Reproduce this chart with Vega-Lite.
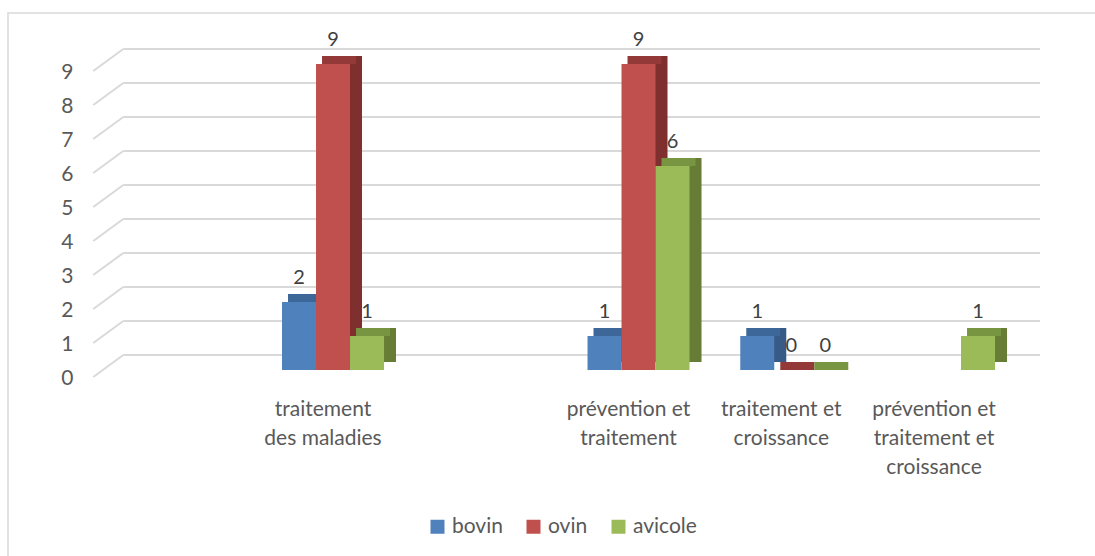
{
  "$schema": "https://vega.github.io/schema/vega-lite/v6.json",
  "width": 1090,
  "height": 546,
  "autosize": {"type": "none"},
  "padding": {"left": 8, "top": 13, "right": -3, "bottom": -3},
  "background": "white",
  "config": {
    "view": {"stroke": "#d9d9d9", "strokeWidth": 1.5},
    "font": "Lato",
    "axis": {"labelFont": "Lato"},
    "legend": {"labelFont": "Lato"}
  },
  "datasets": {
    "valeurs": [
      {"categorie": "traitement des maladies", "espece": "bovin", "nombre": 2},
      {"categorie": "traitement des maladies", "espece": "ovin", "nombre": 9},
      {"categorie": "traitement des maladies", "espece": "avicole", "nombre": 1},
      {"categorie": "prévention et traitement", "espece": "bovin", "nombre": 1},
      {"categorie": "prévention et traitement", "espece": "ovin", "nombre": 9},
      {"categorie": "prévention et traitement", "espece": "avicole", "nombre": 6},
      {"categorie": "traitement et croissance", "espece": "bovin", "nombre": 1},
      {"categorie": "traitement et croissance", "espece": "ovin", "nombre": 0},
      {"categorie": "traitement et croissance", "espece": "avicole", "nombre": 0},
      {"categorie": "prévention et traitement et croissance", "espece": "avicole", "nombre": 1}
    ],
    "grille": [
      {"v": 0}, {"v": 1}, {"v": 2}, {"v": 3}, {"v": 4},
      {"v": 5}, {"v": 6}, {"v": 7}, {"v": 8}, {"v": 9}
    ]
  },
  "data": {"name": "valeurs"},
  "layer": [
    {
      "data": {"name": "grille"},
      "mark": {"type": "rule", "color": "#d9d9d9", "strokeWidth": 2, "xOffset": -57, "x2Offset": 96, "yOffset": -15},
      "encoding": {
        "x": {"datum": " ", "type": "nominal", "title": null},
        "x2": {"datum": "prévention et traitement et croissance"},
        "y": {"field": "v", "type": "quantitative", "title": null}
      }
    },
    {
      "data": {"name": "grille"},
      "mark": {"type": "rule", "color": "#d9d9d9", "strokeWidth": 2, "xOffset": -87, "x2Offset": -57, "yOffset": 7, "y2Offset": -15},
      "encoding": {
        "x": {"datum": " ", "type": "nominal", "title": null},
        "x2": {"datum": " "},
        "y": {"field": "v", "type": "quantitative", "title": null},
        "y2": {"field": "v"}
      }
    },
    {
      "transform": [{"filter": "datum.espece == 'bovin'"}],
      "mark": {"type": "bar", "width": 34, "xOffset": -22, "yOffset": -8, "color": "#375a87"},
      "encoding": {
        "x": {"field": "categorie", "type": "nominal", "title": null},
        "y": {"field": "nombre", "type": "quantitative", "title": null}
      }
    },
    {
      "transform": [{"filter": "datum.espece == 'ovin'"}],
      "mark": {"type": "bar", "width": 34, "xOffset": 12, "yOffset": -8, "color": "#7f2f2e"},
      "encoding": {
        "x": {"field": "categorie", "type": "nominal", "title": null},
        "y": {"field": "nombre", "type": "quantitative", "title": null}
      }
    },
    {
      "transform": [{"filter": "datum.espece == 'avicole'"}],
      "mark": {"type": "bar", "width": 34, "xOffset": 46, "yOffset": -8, "color": "#677d36"},
      "encoding": {
        "x": {"field": "categorie", "type": "nominal", "title": null},
        "y": {"field": "nombre", "type": "quantitative", "title": null}
      }
    },
    {
      "transform": [{"filter": "datum.espece == 'bovin'"}],
      "mark": {"type": "bar", "width": 34, "xOffset": -28, "yOffset": -8, "color": "#3d6798"},
      "encoding": {
        "x": {"field": "categorie", "type": "nominal", "title": null},
        "y": {"field": "nombre", "type": "quantitative", "title": null},
        "y2": {"field": "nombre"}
      }
    },
    {
      "transform": [{"filter": "datum.espece == 'ovin'"}],
      "mark": {"type": "bar", "width": 34, "xOffset": 6, "yOffset": -8, "color": "#933a38"},
      "encoding": {
        "x": {"field": "categorie", "type": "nominal", "title": null},
        "y": {"field": "nombre", "type": "quantitative", "title": null},
        "y2": {"field": "nombre"}
      }
    },
    {
      "transform": [{"filter": "datum.espece == 'avicole'"}],
      "mark": {"type": "bar", "width": 34, "xOffset": 40, "yOffset": -8, "color": "#789541"},
      "encoding": {
        "x": {"field": "categorie", "type": "nominal", "title": null},
        "y": {"field": "nombre", "type": "quantitative", "title": null},
        "y2": {"field": "nombre"}
      }
    },
    {
      "mark": {"type": "bar"},
      "encoding": {
        "x": {
          "field": "categorie",
          "type": "nominal",
          "sort": null,
          "scale": {
            "domain": [" ", "traitement des maladies", "  ", "prévention et traitement", "traitement et croissance", "prévention et traitement et croissance"],
            "paddingInner": 0,
            "paddingOuter": 0.5679,
            "align": 0.5527
          },
          "axis": {
            "title": null,
            "orient": "bottom",
            "offset": -161,
            "domain": false,
            "ticks": false,
            "grid": false,
            "labelAngle": 0,
            "labelAlign": "center",
            "labelFontSize": 21,
            "labelLineHeight": 29,
            "labelBaseline": "top",
            "labelPadding": 0,
            "labelOffset": -10,
            "labelColor": "#595959",
            "labelOverlap": false,
            "labelBound": false,
            "labelFlush": false,
            "labelLimit": 300,
            "labelExpr": "datum.value == 'traitement des maladies' ? ['traitement', 'des maladies'] : datum.value == 'prévention et traitement' ? ['prévention et', 'traitement'] : datum.value == 'traitement et croissance' ? ['traitement et', 'croissance'] : datum.value == 'prévention et traitement et croissance' ? ['prévention et', 'traitement et', 'croissance'] : ''"
          }
        },
        "xOffset": {
          "field": "espece",
          "type": "nominal",
          "scale": {"domain": ["bovin", "ovin", "avicole"], "paddingInner": 0, "paddingOuter": 0.746}
        },
        "y": {
          "field": "nombre",
          "type": "quantitative",
          "stack": null,
          "scale": {"domain": [-5.5588, 10.5], "nice": false},
          "axis": {
            "title": null,
            "values": [0, 1, 2, 3, 4, 5, 6, 7, 8, 9],
            "offset": -65,
            "domain": false,
            "ticks": false,
            "grid": false,
            "labelPadding": 0,
            "labelOffset": 8,
            "labelFontSize": 21,
            "labelColor": "#595959",
            "labelBaseline": "middle",
            "labelAlign": "right"
          }
        },
        "color": {
          "field": "espece",
          "type": "nominal",
          "scale": {"domain": ["bovin", "ovin", "avicole"], "range": ["#4f81bd", "#c0504d", "#9bbb59"]},
          "legend": {
            "title": null,
            "orient": "none",
            "legendX": 419,
            "legendY": 503,
            "direction": "horizontal",
            "symbolType": "square",
            "symbolSize": 196,
            "symbolStrokeWidth": 0,
            "labelFontSize": 21,
            "labelColor": "#595959",
            "columnPadding": 20,
            "labelOffset": 4
          }
        }
      }
    },
    {
      "mark": {"type": "text", "dy": -24, "baseline": "middle", "align": "center", "fontSize": 20, "color": "#404040"},
      "encoding": {
        "x": {"field": "categorie", "type": "nominal", "title": null},
        "xOffset": {"field": "espece", "type": "nominal"},
        "y": {"field": "nombre", "type": "quantitative", "title": null},
        "text": {"field": "nombre", "type": "quantitative"}
      }
    }
  ]
}
